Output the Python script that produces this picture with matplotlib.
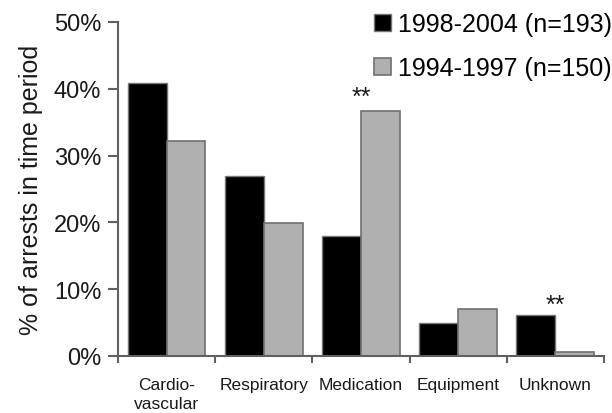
import numpy as np
import matplotlib
matplotlib.use("Agg")
import matplotlib.pyplot as plt
from matplotlib.ticker import FixedLocator, PercentFormatter

plt.rcParams["font.family"] = ["Liberation Sans", "DejaVu Sans"]

categories = ["Cardio-\nvascular", "Respiratory", "Medication", "Equipment", "Unknown"]
recent = [40.9, 27.0, 17.9, 5.0, 6.1]      # 1998-2004
earlier = [32.2, 19.9, 36.7, 7.0, 0.6]     # 1994-1997
labels = ["1998-2004 (n=193)", "1994-1997 (n=150)"]
# significance marks: (category index, height in %)
stars = [(2, 38.8), (4, 7.6)]

AXIS = "#606060"
TXT = "#1a1a1a"

fig = plt.figure(figsize=(6.12, 4.14), dpi=100)
ax = fig.add_axes([0.1928, 0.1377, 0.794, 0.8068])

x = np.arange(len(categories))
w = 0.4
b1 = ax.bar(x + 0.3, recent, w, color="black", edgecolor="#777777", linewidth=1.0, label=labels[0])
b2 = ax.bar(x + 0.7, earlier, w, color="#b0b0b0", edgecolor="#707070", linewidth=1.2, label=labels[1])

for i, h in stars:
    ax.text(i + 0.5, h, "**", ha="center", va="center", fontsize=18, color=TXT)

ax.set_xlim(0, len(categories))
ax.set_ylim(0, 50)
ax.yaxis.set_major_locator(FixedLocator([0, 10, 20, 30, 40, 50]))
ax.yaxis.set_major_formatter(PercentFormatter(decimals=0))

ax.set_xticks(np.arange(len(categories) + 1))
ax.set_xticklabels([])
ax.set_xticks(x + 0.5, minor=True)
ax.set_xticklabels(categories, minor=True, fontsize=12.5, color=TXT, linespacing=1.35, va="top")
ax.tick_params(axis="x", which="minor", length=0, pad=15)
ax.tick_params(axis="x", which="major", length=5, width=1.5, color=AXIS, direction="out")
ax.tick_params(axis="y", length=7, width=1.5, color=AXIS, direction="out", pad=5,
               labelsize=17, labelcolor=TXT)

for s in ["top", "right"]:
    ax.spines[s].set_visible(False)
for s in ["left", "bottom"]:
    ax.spines[s].set_color(AXIS)
    ax.spines[s].set_linewidth(1.5)

ax.set_ylabel("% of arrests in time period", fontsize=18, color=TXT, labelpad=8)

fig.legend(handles=[b1, b2], loc="upper left", bbox_to_anchor=(374 / 612, 1 - 13 / 414),
           frameon=False, fontsize=18, handlelength=0.66, handleheight=0.66,
           handletextpad=0.3, labelspacing=0.8, borderpad=0, borderaxespad=0)

fig.savefig("out.png", dpi=100, facecolor="white")
